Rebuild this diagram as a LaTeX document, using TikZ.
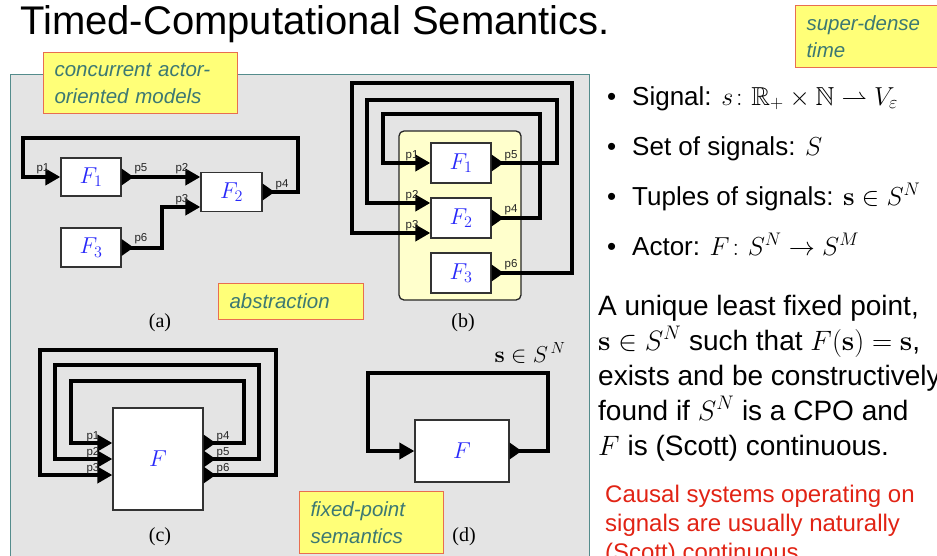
\RequirePackage{fix-cm}
\documentclass[tikz,border=0pt]{standalone}
\usepackage{amsmath,amssymb}
\usepackage[no-math]{fontspec}
\setmainfont{Liberation Sans}
\newfontfamily\serifRM{Liberation Serif}
\usetikzlibrary{arrows.meta,calc}
\definecolor{panelfill}{RGB}{228,228,228}
\definecolor{panelborder}{RGB}{84,140,140}
\definecolor{calloutfill}{RGB}{255,255,120}
\definecolor{calloutborder}{RGB}{232,110,80}
\definecolor{callouttext}{RGB}{60,120,115}
\definecolor{fblue}{RGB}{40,40,250}
\definecolor{bfill}{RGB}{255,255,204}
\definecolor{redtext}{RGB}{225,35,20}
\tikzset{
  wire/.style={line width=4pt, draw=black},
  io/.style={{Triangle[reversed,length=12pt 0 0,width=16pt 0 0]}-{Triangle[length=15pt 0 0,width=16pt 0 0]}},
  actor/.style={draw=black!80, fill=white, line width=1.3pt, inner sep=0,
    font=\fontsize{23}{23}\selectfont, text=fblue},
  plabel/.style={font=\fontsize{11.5}{11.5}\selectfont, text=black!85, inner sep=0},
  sublabel/.style={font=\serifRM\fontsize{20}{20}\selectfont, inner sep=0},
  callout/.style={draw=calloutborder, fill=calloutfill, line width=1pt, anchor=north west,
    inner xsep=11pt, inner ysep=0, align=left, text=callouttext,
    font=\fontsize{20.5}{27}\selectfont\itshape},
  txt/.style={inner sep=0, anchor=base west},
}
\begin{document}
\begin{tikzpicture}[x=1pt,y=-1pt]
\useasboundingbox (0,0) rectangle (937,555);
% panel
\node[draw=panelborder, fill=panelfill, line width=1pt, minimum width=579, minimum height=500,
  anchor=north west, inner sep=0] (panel) at (10,74) {};
% title
\node[txt, font=\fontsize{40}{40}\selectfont] (title) at (20,34) {Timed-Computational Semantics.};
% ---------- (a)
\node[actor, minimum width=60, minimum height=38] (aF1) at (91,177) {$F_1$};
\node[actor, minimum width=61, minimum height=39] (aF2) at (231.5,192) {$F_2$};
\node[actor, minimum width=60, minimum height=39] (aF3) at (91,247.5) {$F_3$};
\draw[wire, io] (aF2.east) -- (298,192) -- (298,138) -- (23,138) -- (23,177) -- (aF1.west);
\draw[wire, io] (aF1.east) -- ($(aF2.west)+(0,-15)$);
\draw[wire, io] (aF3.east) -- (162,247.5) -- (162,207) -- ($(aF2.west)+(0,15)$);
\node[plabel] (ap1) at (43,169) {p1};
\node[plabel] (ap5) at (141,169) {p5};
\node[plabel] (ap2) at (182,169) {p2};
\node[plabel] (ap3) at (182,200) {p3};
\node[plabel] (ap4) at (282,185) {p4};
\node[plabel] (ap6) at (141,239) {p6};
\node[sublabel] (la) at (160,323) {(a)};
% ---------- (b)
\node[draw=black!85, fill=bfill, line width=1.3pt, rounded corners=5pt, minimum width=122,
  minimum height=169, inner sep=0] (bpanel) at (460,215.5) {};
\node[actor, minimum width=60, minimum height=40] (bF1) at (461,163) {$F_1$};
\node[actor, minimum width=60, minimum height=40] (bF2) at (461,218) {$F_2$};
\node[actor, minimum width=60, minimum height=40] (bF3) at (461,273) {$F_3$};
\draw[wire, io] (bF1.east) -- (557,163) -- (557,100) -- (367,100) -- (367,203) -- ($(bF2.west)+(0,-15)$);
\draw[wire, io] (bF2.east) -- (540,218) -- (540,114) -- (383,114) -- (383,163) -- (bF1.west);
\draw[wire, io] (bF3.east) -- (572,273) -- (572,83) -- (352,83) -- (352,233) -- ($(bF2.west)+(0,15)$);
\node[plabel] (bp1) at (412,156) {p1};
\node[plabel] (bp5) at (511,156) {p5};
\node[plabel] (bp2) at (412,196) {p2};
\node[plabel] (bp4) at (511,210) {p4};
\node[plabel] (bp3) at (412,226) {p3};
\node[plabel] (bp6) at (511,265) {p6};
\node[sublabel] (lb) at (463,323) {(b)};
% ---------- (c)
\node[actor, minimum width=90, minimum height=102] (cF) at (158,459) {$F$};
\draw[wire, io] ($(cF.east)+(0,-16)$) -- (244,443) -- (244,381) -- (71,381) -- (71,443) -- ($(cF.west)+(0,-16)$);
\draw[wire, io] (cF.east) -- (259,459) -- (259,365) -- (55,365) -- (55,459) -- (cF.west);
\draw[wire, io] ($(cF.east)+(0,16)$) -- (276,475) -- (276,350) -- (40,350) -- (40,475) -- ($(cF.west)+(0,16)$);
\node[plabel] (cp1) at (93,437) {p1};
\node[plabel] (cp2) at (93,453) {p2};
\node[plabel] (cp3) at (93,469) {p3};
\node[plabel] (cp4) at (223,437) {p4};
\node[plabel] (cp5) at (223,453) {p5};
\node[plabel] (cp6) at (223,469) {p6};
\node[sublabel] (lc) at (160,537) {(c)};
% ---------- (d)
\node[actor, minimum width=94, minimum height=62] (dF) at (462,451) {$F$};
\draw[wire, io] (dF.east) -- (548,451) -- (548,373) -- (368,373) -- (368,451) -- (dF.west);
\node[inner sep=0, font=\fontsize{23}{23}\selectfont] (dlab) at (530,353) {$\mathbf{s}\in S^{\,N}$};
\node[sublabel] (ld) at (464,537) {(d)};
% ---------- callouts
\node[callout, minimum width=194, minimum height=61, text width=172] (c1) at (43,52)
  {concurrent actor-\\oriented models};
\node[callout, minimum width=145, minimum height=36, text width=123] (c2) at (218,283)
  {abstraction};
\node[callout, minimum width=144, minimum height=62, text width=122] (c3) at (299,491)
  {fixed-point\\semantics};
\node[callout, minimum width=150, minimum height=62, text width=128] (c4) at (795,5)
  {super-dense\\time};
% ---------- right text
\begin{scope}[every node/.style={txt, font=\fontsize{26}{26}\selectfont}]
\node (u1) at (607,105) {\textbullet};
\node (t1) at (632,105) {Signal: $s\colon \mathbb{R}_+\times\mathbb{N}\rightharpoonup V_\varepsilon$};
\node (u2) at (607,155) {\textbullet};
\node (t2) at (632,155) {Set of signals: $S$};
\node (u3) at (607,205) {\textbullet};
\node (t3) at (632,205) {Tuples of signals: $\mathbf{s}\in S^N$};
\node (u4) at (607,255) {\textbullet};
\node (t4) at (632,255) {Actor: $F\colon S^N\to S^M$};
\end{scope}
\begin{scope}[every node/.style={txt, font=\fontsize{28}{28}\selectfont}]
\node (q1) at (598,315) {A unique least fixed point,};
\node (q2) at (598,350) {$\mathbf{s}\in S^N$ such that $F(\mathbf{s})=\mathbf{s}$,};
\node (q3) at (598,385) {exists and be constructively};
\node (q4) at (598,420) {found if $S^N$ is a CPO and};
\node (q5) at (598,455) {$F$ is (Scott) continuous.};
\end{scope}
\begin{scope}[every node/.style={txt, text=redtext, font=\fontsize{24}{24}\selectfont}]
\node (r1) at (605,502) {Causal systems operating on};
\node (r2) at (605,531) {signals are usually naturally};
\node (r3) at (605,560) {(Scott) continuous.};
\end{scope}
\end{tikzpicture}
\end{document}
